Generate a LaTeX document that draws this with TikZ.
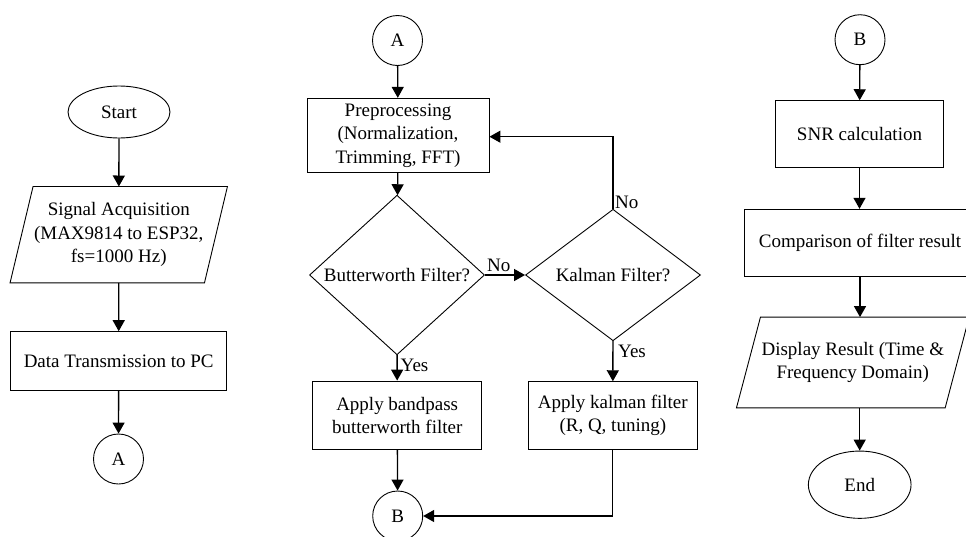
\documentclass[tikz,border=0pt]{standalone}
\usepackage{fontspec}
\setmainfont{Liberation Serif}
\usetikzlibrary{shapes.geometric,arrows.meta,calc}
\begin{document}
\begin{tikzpicture}[x=1pt,y=-1pt,
  every node/.style={font=\fontsize{19}{23.3}\selectfont},
  box/.style={draw,line width=0.9pt,rectangle,inner sep=0pt,align=center},
  term/.style={draw,line width=0.9pt,ellipse,inner sep=0pt},
  conn/.style={draw,line width=0.9pt,circle,inner sep=0pt,minimum size=50pt},
  dec/.style={draw,line width=0.9pt,diamond,inner sep=0pt,minimum width=175pt,minimum height=131.5pt},
  io/.style={rectangle,inner sep=0pt,align=center},
  para/.style={draw,line width=0.9pt},
  flow/.style={line width=1.3pt,-{Triangle[length=11pt,width=12pt]}},
  lbl/.style={inner sep=0pt,anchor=base west}
]
\useasboundingbox (0,0) rectangle (966,536);

% left column
\node[term,minimum width=102pt,minimum height=52pt] (start) at (119,112) {Start};
\node[io,minimum width=194pt,minimum height=96pt] (sig) at (118.75,234.7) {Signal Acquisition\\(MAX9814 to ESP32,\\fs=1000 Hz)};
\draw[para] ($(sig.north west)+(11.5,0)$) -- ($(sig.north east)+(11.5,0)$) -- ($(sig.south east)+(-11.5,0)$) -- ($(sig.south west)+(-11.5,0)$) -- cycle;
\node[box,minimum width=216pt,minimum height=58.3pt] (data) at (118.7,360.8) {Data Transmission to PC};
\node[conn] (a1) at (118.5,459) {A};

\draw[flow] (start) -- (sig);
\draw[flow] (sig) -- (data);
\draw[flow] (data) -- (a1);

% middle column
\node[conn] (a2) at (397.5,40.5) {A};
\node[box,minimum width=182pt,minimum height=74.4pt] (pre) at (398,135.5) {Preprocessing\\(Normalization,\\Trimming, FFT)};
\node[dec] (d1) at (397,275) {Butterworth Filter?};
\node[dec] (d2) at (613,275) {Kalman Filter?};
\node[box,minimum width=169pt,minimum height=68.3pt] (bw) at (397.2,415.2) {Apply bandpass\\butterworth filter};
\node[box,minimum width=169pt,minimum height=67.6pt] (kf) at (612.8,415.5) {Apply kalman filter\\(R, Q, tuning)};
\node[conn] (b1) at (397.7,516) {B};

\draw[flow] (a2) -- (pre);
\draw[flow] (pre) -- (d1);
\draw[flow] (d1) -- (d2);
\draw[flow] (d2.north) -- (d2.north |- 0,136.7) -- (pre.east |- 0,136.7);
\draw[flow] (d1) -- (bw);
\draw[flow] (d2) -- (kf);
\draw[flow] (bw) -- (b1);
\draw[flow] (kf.south) -- (kf.south |- b1.east) -- (b1.east);

\node[lbl] (no1) at ($(d1.east)+(2,-3.5)$) {No};
\node[lbl] (no2) at ($(d2.north)+(2,0)$) {No};
\node[lbl] (yes1) at ($(d1.south)+(3.5,16)$) {Yes};
\node[lbl] (yes2) at ($(d2.south)+(5,16)$) {Yes};

% right column
\node[conn] (b2) at (860,39.7) {B};
\node[box,minimum width=167.6pt,minimum height=66.6pt] (snr) at (859.5,134) {SNR calculation};
\node[box,minimum width=232pt,minimum height=67.5pt] (cmp) at (860,243) {Comparison of filter result};
\node[io,minimum width=208.3pt,minimum height=90.4pt] (disp) at (852.8,362.5) {Display Result (Time \&\\Frequency Domain)};
\draw[para] ($(disp.north west)+(12,0)$) -- ($(disp.north east)+(12,0)$) -- ($(disp.south east)+(-12,0)$) -- ($(disp.south west)+(-12,0)$) -- cycle;
\node[term,minimum width=102.7pt,minimum height=67.3pt] (end) at (859.7,484.7) {End};

\draw[flow] (b2) -- (snr);
\draw[flow] (snr) -- (snr |- cmp.north);
\draw[flow] (cmp.south) -- (cmp.south |- disp.north);
\draw[flow] (end.north |- disp.south) -- (end);
\end{tikzpicture}
\end{document}
